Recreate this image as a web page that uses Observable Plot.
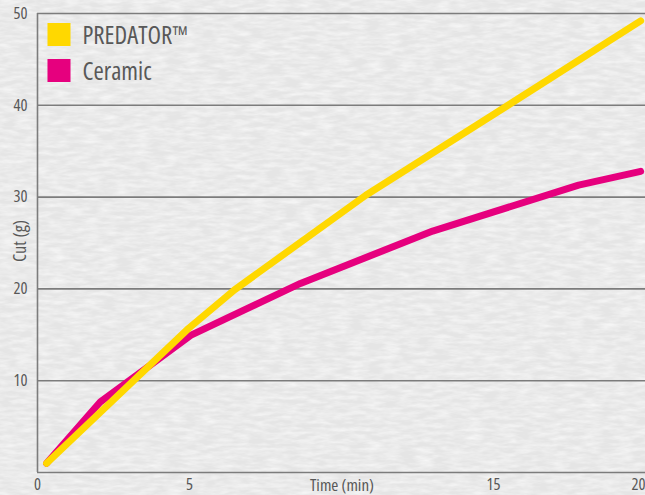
<!DOCTYPE html>
<html>
<head>
<meta charset="utf-8">
<script src="https://cdn.jsdelivr.net/npm/d3@7"></script>
<script src="https://cdn.jsdelivr.net/npm/@observablehq/plot@0.6"></script>
<style>
  html, body { margin: 0; padding: 0; }
  body {
    width: 645px; height: 495px; overflow: hidden;
    background-color: #e5e5e5;
    background-image: url("data:image/svg+xml;utf8,<svg xmlns='http://www.w3.org/2000/svg' width='645' height='495'><filter id='n'><feTurbulence type='fractalNoise' baseFrequency='0.06 0.25' numOctaves='3' seed='4'/><feColorMatrix type='matrix' values='0 0 0 0 1  0 0 0 0 1  0 0 0 0 1  0 0 0 -1.1 0.75'/></filter><rect width='645' height='495' filter='url(%23n)'/></svg>");
  }
  #chart svg { display: block; }
  .probe { position: absolute; left: -2000px; top: 0; white-space: nowrap; font-size: 100px; }
</style>
</head>
<body>
<div id="chart"></div>
<script>
// ---- data ----
const seriesNames = ["PREDATOR™", "Ceramic"];
const seriesColors = ["#ffd800", "#e6007e"];

const predatorTime = [0.3, 4.97, 6.48, 10.8, 15, 19.84];
const predatorCut  = [1.0, 15.7, 19.9, 30.2, 39.0, 49.2];

const ceramicTime = [0.3, 2.07, 5.07, 8.65, 13.0, 17.8, 19.84];
const ceramicCut  = [1.0, 7.7, 15.0, 20.6, 26.3, 31.3, 32.8];

const xTicks = [0, 5, 15, 20];
const yTicks = [10, 20, 30, 40, 50];
const xLabel = "Time (min)";
const yLabel = "Cut (g)";

// ---- pick an installed condensed face (layout only) ----
const candidates = [
  {family: '"Noto Sans ExtraCondensed"', stretch: "normal"},
  {family: '"Noto Sans Condensed"', stretch: "normal"},
  {family: '"Noto Sans"', stretch: "62.5%"},
  {family: '"Open Sans"', stretch: "75%"},
  {family: '"Roboto"', stretch: "75%"},
  {family: '"Roboto Condensed"', stretch: "normal"},
  {family: '"Liberation Sans Narrow"', stretch: "normal"},
  {family: '"DejaVu Sans Condensed"', stretch: "normal"},
  {family: '"DejaVu Sans"', stretch: "condensed"}
];
function measure(text, c) {
  const s = document.createElement("span");
  s.className = "probe";
  s.style.fontFamily = c.family + ", monospace";
  s.style.fontStretch = c.stretch;
  s.textContent = text;
  document.body.appendChild(s);
  const w = s.getBoundingClientRect().width;
  s.remove();
  return w / 100;
}
const targetRatio = 4.3; // width of "PREDATOR™" per px of font size
let best = candidates[candidates.length - 1], bestErr = Infinity;
for (const c of candidates) {
  const err = Math.abs(measure(seriesNames[0], c) - targetRatio);
  if (err < bestErr) { bestErr = err; best = c; }
}
const fontFamily = best.family + ', "DejaVu Sans", sans-serif';
const sizeFor = (text, targetWidth) => +(targetWidth / measure(text, best)).toFixed(1);
const legendSize = Math.min(26, sizeFor(seriesNames[0], 105));
const tickSize = Math.min(18, sizeFor("50", 14));
const xLabelSize = Math.min(17, sizeFor(xLabel, 69));
const yLabelSize = Math.min(19, sizeFor(yLabel, 42));

// ---- build rows ----
const predator = predatorTime.map((t, i) => ({time: t, cut: predatorCut[i], series: seriesNames[0]}));
const ceramic = ceramicTime.map((t, i) => ({time: t, cut: ceramicCut[i], series: seriesNames[1]}));

const textColor = "#585858";
const gridColor = "#7c7c7c";

const legendMarks = seriesNames.flatMap((name, i) => [
  Plot.dot([name], {frameAnchor: "top-left", dx: 21.5, dy: 21 + i * 36, symbol: "square", r: 13, fill: seriesColors[i], stroke: "none"}),
  Plot.text([name], {frameAnchor: "top-left", dx: 45, dy: 23 + i * 36, text: d => d, textAnchor: "start", lineAnchor: "middle", fill: textColor, fontSize: legendSize})
]);

const chart = Plot.plot({
  width: 645,
  height: 495,
  marginLeft: 37,
  marginRight: 0,
  marginTop: 13,
  marginBottom: 23,
  style: {background: "transparent", fontFamily: fontFamily, fontStretch: best.stretch, fontSize: tickSize + "px", color: textColor, overflow: "visible"},
  x: {domain: [0, 20]},
  y: {domain: [0, 50]},
  marks: [
    Plot.ruleY(yTicks, {stroke: gridColor, strokeWidth: 1.6}),
    Plot.ruleY([0], {stroke: gridColor, strokeWidth: 1.6}),
    Plot.ruleX([0], {stroke: gridColor, strokeWidth: 1.6}),
    Plot.axisY(yTicks, {tickSize: 0, tickPadding: 10, label: null, fill: textColor, fontSize: tickSize}),
    Plot.axisX(xTicks.slice(0, -1), {tickSize: 0, tickPadding: 6, label: null, fill: textColor, fontSize: tickSize}),
    Plot.axisX(xTicks.slice(-1), {tickSize: 0, tickPadding: 6, label: null, fill: textColor, fontSize: tickSize, textAnchor: "end"}),
    Plot.text([xLabel], {frameAnchor: "bottom", text: d => d, fill: textColor, fontSize: xLabelSize}),
    Plot.text([yLabel], {frameAnchor: "left", rotate: -90, text: d => d, fill: textColor, fontSize: yLabelSize}),
    Plot.line(ceramic, {x: "time", y: "cut", stroke: seriesColors[1], strokeWidth: 7, strokeLinecap: "round", strokeLinejoin: "round"}),
    Plot.line(predator, {x: "time", y: "cut", stroke: seriesColors[0], strokeWidth: 7, strokeLinecap: "round", strokeLinejoin: "round"}),
    ...legendMarks
  ]
});
document.getElementById("chart").appendChild(chart);

// ---- fine placement of the two axis titles (centre them where the reference has them) ----
function centreText(content, cx, cy) {
  const t = [...chart.querySelectorAll("text")].find(n => n.textContent === content);
  if (!t) return;
  const r = t.getBoundingClientRect(), s = chart.getBoundingClientRect();
  const dx = cx - (r.left + r.width / 2 - s.left);
  const dy = cy - (r.top + r.height / 2 - s.top);
  t.setAttribute("transform", `translate(${dx},${dy}) ` + (t.getAttribute("transform") || ""));
}
centreText(yLabel, 18, 241);
centreText(xLabel, 342, 484);
</script>
</body>
</html>
